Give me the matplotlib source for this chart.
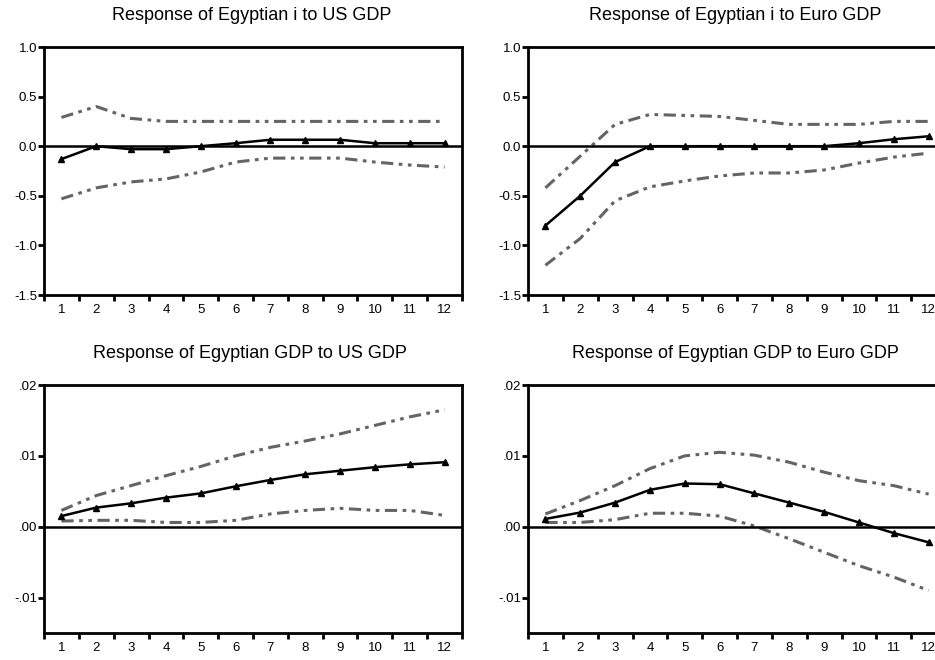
import numpy as np
import matplotlib
matplotlib.use("Agg")
import matplotlib.pyplot as plt
from matplotlib.ticker import FixedLocator, FuncFormatter

plt.rcParams['font.family'] = ['Liberation Sans', 'DejaVu Sans']

periods = list(range(1, 13))

# Egyptian interest rate to US GDP
i_us = [-0.13, 0.0, -0.03, -0.03, 0.0, 0.03, 0.065, 0.065, 0.065, 0.03, 0.03, 0.03]
i_us_hi = [0.29, 0.40, 0.28, 0.25, 0.25, 0.25, 0.25, 0.25, 0.25, 0.25, 0.25, 0.25]
i_us_lo = [-0.53, -0.42, -0.36, -0.33, -0.26, -0.16, -0.12, -0.12, -0.12, -0.16, -0.19, -0.21]

# Egyptian interest rate to Euro GDP
i_eu = [-0.80, -0.50, -0.16, 0.0, 0.0, 0.0, 0.0, 0.0, 0.0, 0.03, 0.07, 0.10]
i_eu_hi = [-0.42, -0.10, 0.22, 0.32, 0.31, 0.30, 0.26, 0.22, 0.22, 0.22, 0.25, 0.25]
i_eu_lo = [-1.20, -0.93, -0.55, -0.41, -0.35, -0.30, -0.27, -0.27, -0.24, -0.17, -0.11, -0.07]

# Egyptian GDP to US GDP
gdp_us = [0.0015, 0.0027, 0.0033, 0.0041, 0.0047, 0.0057, 0.0066, 0.0074, 0.0079, 0.0084, 0.0088, 0.0091]
gdp_us_hi = [0.0023, 0.0044, 0.0058, 0.0072, 0.0085, 0.0100, 0.0112, 0.0121, 0.0131, 0.0143, 0.0155, 0.0165]
gdp_us_lo = [0.0008, 0.0009, 0.0009, 0.0006, 0.0006, 0.0009, 0.0018, 0.0023, 0.0026, 0.0023, 0.0023, 0.0016]

# Egyptian GDP to Euro GDP
gdp_eu = [0.0011, 0.0020, 0.0034, 0.0052, 0.0061, 0.0060, 0.0047, 0.0034, 0.0021, 0.0006, -0.0009, -0.0022]
gdp_eu_hi = [0.0018, 0.0037, 0.0058, 0.0082, 0.0100, 0.0105, 0.0101, 0.0091, 0.0077, 0.0065, 0.0058, 0.0046]
gdp_eu_lo = [0.0006, 0.0006, 0.0010, 0.0019, 0.0019, 0.0015, 0.0001, -0.0017, -0.0036, -0.0055, -0.0071, -0.0090]

W, H = 935, 660
fig = plt.figure(figsize=(W / 100, H / 100), dpi=100)


def px_axes(x0, y0, x1, y1):
    # pixel box (top-left origin) -> figure fraction
    return fig.add_axes([x0 / W, 1 - y1 / H, (x1 - x0) / W, (y1 - y0) / H])


def irf_panel(ax, resp, hi, lo, ylim, yticks, fmt):
    band = dict(color='#646464', lw=2.2, linestyle=(0, (4, 1.8, 1.2, 1.8, 1.2, 1.8)))
    ax.plot(periods, hi, **band)
    ax.plot(periods, lo, **band)
    ax.axhline(0, color='black', lw=1.8, zorder=2)
    ax.plot(periods, resp, color='black', lw=1.8, marker='^', ms=5, zorder=3)
    ax.set_xlim(0.5, 12.5)
    ax.set_ylim(*ylim)
    ax.set_yticks(yticks)
    ax.yaxis.set_major_formatter(FuncFormatter(fmt))
    ax.set_xticks(periods)
    ax.xaxis.set_minor_locator(FixedLocator(np.arange(0.5, 13, 1.0)))
    ax.tick_params(axis='x', which='major', length=0, pad=6.5, labelsize=9.5)
    ax.tick_params(axis='x', which='minor', length=4, width=2, direction='out')
    ax.tick_params(axis='y', length=4, width=2, pad=1, labelsize=9.5)
    for s in ax.spines.values():
        s.set_linewidth(2)


def fmt_i(v, pos):
    return f"{v:.1f}"


def fmt_gdp(v, pos):
    s = f"{v:.2f}"
    return s.replace("0.", ".", 1)


ax1 = px_axes(44, 47, 462, 295)
irf_panel(ax1, i_us, i_us_hi, i_us_lo, (-1.5, 1.0), [-1.5, -1.0, -0.5, 0.0, 0.5, 1.0], fmt_i)
ax2 = px_axes(528, 47, 946, 295)
irf_panel(ax2, i_eu, i_eu_hi, i_eu_lo, (-1.5, 1.0), [-1.5, -1.0, -0.5, 0.0, 0.5, 1.0], fmt_i)
ax3 = px_axes(44, 385, 462, 633)
irf_panel(ax3, gdp_us, gdp_us_hi, gdp_us_lo, (-0.015, 0.02), [-0.01, 0.0, 0.01, 0.02], fmt_gdp)
ax4 = px_axes(528, 385, 946, 633)
irf_panel(ax4, gdp_eu, gdp_eu_hi, gdp_eu_lo, (-0.015, 0.02), [-0.01, 0.0, 0.01, 0.02], fmt_gdp)

title_kw = dict(ha='center', va='center', fontsize=13)
fig.text(252 / W, 1 - 16 / H, "Response of Egyptian i to US GDP", **title_kw)
fig.text(735 / W, 1 - 16 / H, "Response of Egyptian i to Euro GDP", **title_kw)
fig.text(250 / W, 1 - 354 / H, "Response of Egyptian GDP to US GDP", **title_kw)
fig.text(735 / W, 1 - 354 / H, "Response of Egyptian GDP to Euro GDP", **title_kw)

fig.savefig("out.png", dpi=100)
